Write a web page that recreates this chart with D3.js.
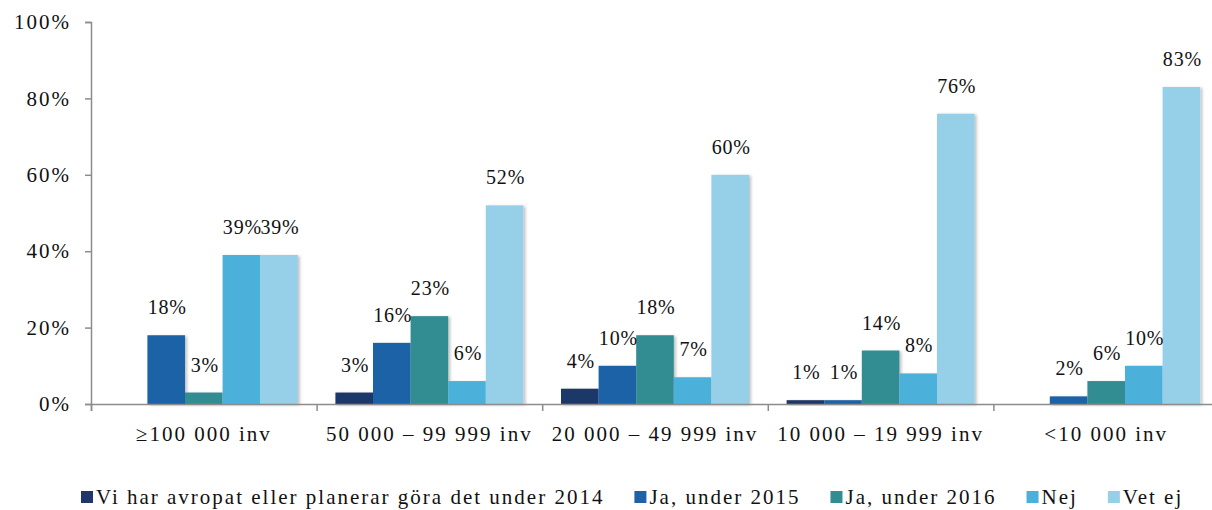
<!DOCTYPE html>
<html>
<head>
<meta charset="utf-8">
<script src="https://cdn.jsdelivr.net/npm/d3@7"></script>
<style>
  body { margin: 0; background: #fff; }
  svg text { font-family: "Liberation Serif", "Times New Roman", serif; font-size: 21px; letter-spacing: 2px; fill: #111; }
  svg text.val { font-size: 20px; letter-spacing: 0.8px; }
</style>
</head>
<body>
<script>
// data (percent)
var groups = ["\u2265100 000 inv", "50 000 \u2013 99 999 inv", "20 000 \u2013 49 999 inv", "10 000 \u2013 19 999 inv", "<10 000 inv"];
var seriesNames = ["Vi har avropat eller planerar göra det under 2014", "Ja, under 2015", "Ja, under 2016", "Nej", "Vet ej"];
var avrop2014 = [null, 3, 4, 1, null];
var ja2015 = [18, 16, 10, 1, 2];
var ja2016 = [3, 23, 18, 14, 6];
var nej = [39, 6, 7, 8, 10];
var vetEj = [39, 52, 60, 76, 83];
var yTicks = [0, 20, 40, 60, 80, 100];
var colors = ["#1f3769", "#1f62a6", "#318d92", "#4bb1da", "#96cfe8"];

var seriesValues = [avrop2014, ja2015, ja2016, nej, vetEj];

var svg = d3.select("body").append("svg")
    .attr("width", 1212)
    .attr("height", 510);

var defs = svg.append("defs");
var shadow = defs.append("filter").attr("id", "shadow")
    .attr("x", "-20%").attr("y", "-20%").attr("width", "150%").attr("height", "150%");
shadow.append("feDropShadow")
    .attr("dx", 2).attr("dy", 1).attr("stdDeviation", 1.5)
    .attr("flood-color", "#000").attr("flood-opacity", 0.25);

var x0 = d3.scaleBand()
    .domain(groups)
    .range([91, 1219])
    .paddingInner(0)
    .paddingOuter(0);

var x1 = d3.scaleBand()
    .domain(d3.range(seriesNames.length))
    .range([0, x0.bandwidth()])
    .paddingInner(0)
    .paddingOuter(0.5);

var y = d3.scaleLinear()
    .domain([0, 100])
    .range([404, 22]);

// rows for drawing
var rows = [];
groups.forEach(function(g, gi) {
    seriesValues.forEach(function(vals, si) {
        if (vals[gi] != null) rows.push({group: g, s: si, value: vals[gi]});
    });
});

// y axis
svg.append("g")
    .attr("transform", "translate(91,0)")
    .call(d3.axisLeft(y).tickValues(yTicks).tickSize(6).tickPadding(14).tickFormat(d => d + "%"));

// bars
svg.append("g").selectAll("rect")
    .data(rows)
    .enter()
    .append("rect")
    .attr("x", d => x0(d.group) + x1(d.s))
    .attr("y", d => y(d.value))
    .attr("width", x1.bandwidth())
    .attr("height", d => y(0) - y(d.value))
    .attr("fill", d => colors[d.s])
    .attr("filter", "url(#shadow)");

// x axis with ticks at group boundaries
var xb = d3.scaleLinear().domain([0, groups.length]).range([91, 1219]);
svg.append("g")
    .attr("transform", "translate(0,404)")
    .call(d3.axisBottom(xb).tickValues(d3.range(groups.length + 1)).tickSize(7).tickFormat(""));

var xAxis = svg.append("g")
    .attr("transform", "translate(0,404)")
    .call(d3.axisBottom(x0).tickSize(0).tickPadding(22));
xAxis.select(".domain").remove();

svg.selectAll(".domain, .tick line").attr("stroke", "#8c8c8c").attr("stroke-width", 1.5);
svg.selectAll(".tick text").attr("fill", "#111").attr("font-family", null).attr("font-size", null);

// value labels
svg.append("g").selectAll("text")
    .data(rows)
    .enter()
    .append("text")
    .attr("class", "val")
    .attr("x", d => x0(d.group) + x1(d.s) + x1.bandwidth() / 2 + 1)
    .attr("y", d => y(d.value) - 21)
    .attr("text-anchor", "middle")
    .text(d => d.value + "%");

// legend
var legend = svg.append("g").attr("transform", "translate(81,491)");
var lx = 0;
seriesNames.forEach(function(name, i) {
    var item = legend.append("g").attr("transform", "translate(" + lx + ",0)");
    item.append("rect")
        .attr("width", 12)
        .attr("height", 12)
        .attr("fill", colors[i]);
    var t = item.append("text")
        .attr("x", 15)
        .attr("y", 13)
        .text(name);
    lx += 15 + t.node().getComputedTextLength() + 30;
});
</script>
</body>
</html>
